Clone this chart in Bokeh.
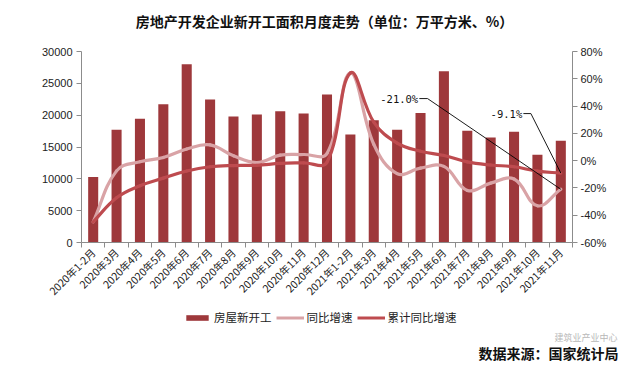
import math
from bokeh.plotting import figure
from bokeh.layouts import column
from bokeh.models import (Range1d, LinearAxis, FixedTicker, PrintfTickFormatter,
                          NumeralTickFormatter, Legend, LegendItem, Label, ColumnDataSource)
from bokeh.embed import file_html
from bokeh.resources import INLINE

categories = ["2020年1-2月", "2020年3月", "2020年4月", "2020年5月", "2020年6月", "2020年7月",
              "2020年8月", "2020年9月", "2020年10月", "2020年11月", "2020年12月",
              "2021年1-2月", "2021年3月", "2021年4月", "2021年5月", "2021年6月", "2021年7月",
              "2021年8月", "2021年9月", "2021年10月", "2021年11月"]
new_starts = [10300, 17700, 19450, 21700, 28000, 22450, 19800, 20100, 20600, 20250, 23250,
              16950, 19200, 17700, 20350, 26900, 17550, 16500, 17400, 13800, 16000]
yoy = [-44.9, -7.5, -0.8, 2.3, 8.5, 11.5, 3.5, -1.4, 4.0, 4.5, 5.2,
       64.3, 12.0, -9.5, -5.5, -4.2, -21.8, -16.5, -13.5, -33.1, -21.0]
cum_yoy = [-44.9, -27.2, -18.4, -12.8, -7.6, -4.5, -3.6, -3.4, -2.0, -1.6, -1.2,
           64.3, 28.2, 12.8, 6.9, 3.8, -0.9, -3.2, -4.5, -7.7, -9.1]
left_ticks = [0, 5000, 10000, 15000, 20000, 25000, 30000]
right_ticks = [-60, -40, -20, 0, 20, 40, 60, 80]
title_text = "房地产开发企业新开工面积月度走势（单位：万平方米、%）"
legend_labels = ["房屋新开工", "同比增速", "累计同比增速"]
source_text = "数据来源：国家统计局"
watermark_text = "建筑业产业中心"

BAR = "#9E383B"
PINK = "#D9A3A6"
RED = "#BE4B4F"
FONT = "Noto Sans CJK SC"
AX = "#8C8C8C"

n = len(categories)
xs = list(range(1, n + 1))

W = 643
H_TOP, H_MAIN, H_BOT = 35, 275, 61
FL, FR = 81, 572           # frame left / right (px)
FT, FB = 16, 207           # frame top / bottom inside the main figure (px)


def blank(h):
    f = figure(width=W, height=h, output_backend="svg", toolbar_location=None,
               x_range=Range1d(0, W), y_range=Range1d(0, h),
               x_axis_type=None, y_axis_type=None,
               min_border_left=0, min_border_right=0, min_border_top=0,
               min_border_bottom=0, frame_align=False)
    f.outline_line_color = None
    return f


# ---- title strip
top = blank(H_TOP)
top.add_layout(Label(x=324, y=15, text=title_text, text_font=FONT, text_font_style="bold",
                     text_font_size="14px", text_align="center", text_baseline="middle",
                     text_color="#111111"))

# ---- main chart
p = figure(width=W, height=H_MAIN, output_backend="svg", toolbar_location=None,
           x_range=Range1d(0.5, n + 0.5), y_range=Range1d(0, 30000),
           min_border_left=FL, min_border_right=W - FR, min_border_top=FT,
           min_border_bottom=H_MAIN - FB, frame_align=False)
p.outline_line_color = None
p.xgrid.grid_line_color = None
p.ygrid.grid_line_color = None
p.extra_y_ranges = {"right": Range1d(-60, 80)}

xa = p.xaxis[0]
xa.ticker = FixedTicker(ticks=xs, minor_ticks=[i + 0.5 for i in range(0, n + 1)])
xa.major_label_overrides = {i: c for i, c in zip(xs, categories)}
xa.major_tick_out = 0
xa.major_tick_in = 0
xa.minor_tick_out = 5
xa.minor_tick_in = 0
xa.minor_tick_line_color = AX
xa.axis_line_color = AX
xa.major_label_orientation = math.pi / 4
xa.major_label_text_font = FONT
xa.major_label_text_font_size = "10.5px"
xa.major_label_text_color = "#222222"
xa.major_label_standoff = 3

ya = p.yaxis[0]
ya.ticker = FixedTicker(ticks=left_ticks)
ya.formatter = NumeralTickFormatter(format="0")
ya.major_tick_out = 5
ya.major_tick_in = 0
ya.minor_tick_line_color = None
ya.axis_line_color = AX
ya.major_tick_line_color = AX
ya.major_label_text_font = "Liberation Sans"
ya.major_label_text_font_size = "11px"
ya.major_label_text_color = "#222222"
ya.major_label_standoff = 4

ra = LinearAxis(y_range_name="right", ticker=FixedTicker(ticks=right_ticks),
                formatter=PrintfTickFormatter(format="%d%%"))
ra.major_tick_out = 5
ra.major_tick_in = 0
ra.minor_tick_line_color = None
ra.axis_line_color = AX
ra.major_tick_line_color = AX
ra.major_label_text_font = "Liberation Sans"
ra.major_label_text_font_size = "11px"
ra.major_label_text_color = "#222222"
ra.major_label_standoff = 3
p.add_layout(ra, "right")

p.vbar(x=xs, top=new_starts, width=0.43, fill_color=BAR, line_color=None)

# pixel scales used only to shape the smoothing handles
sx = (FR - FL) / n
sy = (FB - FT) / 140.0


def smooth(vals, t=0.4):
    pts = list(zip(xs, vals))
    m = len(pts)
    hl, hr = [], []
    for i in range(m):
        a = pts[max(i - 1, 0)]
        b = pts[i]
        c = pts[min(i + 1, m - 1)]
        d1 = math.hypot((b[0] - a[0]) * sx, (b[1] - a[1]) * sy)
        d2 = math.hypot((c[0] - b[0]) * sx, (c[1] - b[1]) * sy)
        tot = d1 + d2 if d1 + d2 > 0 else 1
        fa = t * d1 / tot
        fb = t * d2 / tot
        dx, dy = c[0] - a[0], c[1] - a[1]
        hl.append((b[0] - fa * dx, b[1] - fa * dy))
        hr.append((b[0] + fb * dx, b[1] + fb * dy))
    d = dict(x0=[], y0=[], x1=[], y1=[], cx0=[], cy0=[], cx1=[], cy1=[])
    for i in range(m - 1):
        d["x0"].append(pts[i][0]); d["y0"].append(pts[i][1])
        d["x1"].append(pts[i + 1][0]); d["y1"].append(pts[i + 1][1])
        d["cx0"].append(hr[i][0]); d["cy0"].append(hr[i][1])
        d["cx1"].append(hl[i + 1][0]); d["cy1"].append(hl[i + 1][1])
    return ColumnDataSource(d)


p.bezier(x0="x0", y0="y0", x1="x1", y1="y1", cx0="cx0", cy0="cy0", cx1="cx1", cy1="cy1",
         source=smooth(yoy), y_range_name="right", line_color=PINK, line_width=3.2,
         line_cap="round")
p.bezier(x0="x0", y0="y0", x1="x1", y1="y1", cx0="cx0", cy0="cy0", cx1="cx1", cy1="cy1",
         source=smooth(cum_yoy), y_range_name="right", line_color=RED, line_width=3.2,
         line_cap="round")

# leader lines + labels for the last points
p.line(x=[14.95, 15.3, n], y=[45.5, 45.5, yoy[-1]], y_range_name="right",
       line_color="#000000", line_width=0.9)
p.line(x=[19.4, 19.72, n], y=[34.5, 34.5, cum_yoy[-1]], y_range_name="right",
       line_color="#000000", line_width=0.9)
p.add_layout(Label(x=14.9, y=45.5, y_range_name="right", text="-%.1f%%" % abs(yoy[-1]),
                   text_font="DejaVu Sans Mono", text_font_size="10.5px",
                   text_align="right", text_baseline="middle", text_color="#111111"))
p.add_layout(Label(x=19.35, y=34.5, y_range_name="right", text="-%.1f%%" % abs(cum_yoy[-1]),
                   text_font="DejaVu Sans Mono", text_font_size="10.5px",
                   text_align="right", text_baseline="middle", text_color="#111111"))

# ---- bottom strip: legend + source
bot = blank(H_BOT)
# swatch renderers kept off-canvas; only their legend glyphs are shown
r_bar = bot.vbar(x=[-100], top=[-100], bottom=[-110], width=1, fill_color=BAR, line_color=None)
r_pink = bot.line(x=[-100, -90], y=[-100, -100], line_color=PINK, line_width=3)
r_red = bot.line(x=[-100, -90], y=[-100, -100], line_color=RED, line_width=3)
legend = Legend(items=[LegendItem(label=legend_labels[0], renderers=[r_bar]),
                       LegendItem(label=legend_labels[1], renderers=[r_pink]),
                       LegendItem(label=legend_labels[2], renderers=[r_red])],
                orientation="horizontal", location=(183, 46),
                glyph_width=28, glyph_height=7, label_height=14, label_standoff=3,
                spacing=4, padding=0, margin=0, border_line_color=None,
                background_fill_alpha=0, label_text_font=FONT,
                label_text_font_size="11.5px", label_text_color="#222222")
bot.add_layout(legend, "center")
bot.add_layout(Label(x=617, y=34, text=watermark_text, text_font=FONT, text_font_size="9px",
                     text_align="right", text_baseline="middle", text_color="#B8B8B8"))
bot.add_layout(Label(x=618, y=19, text=source_text, text_font=FONT, text_font_style="bold",
                     text_font_size="14px", text_align="right", text_baseline="middle",
                     text_color="#111111"))

layout = column(top, p, bot, spacing=0)
open("out.html", "w").write(file_html(layout, INLINE))
